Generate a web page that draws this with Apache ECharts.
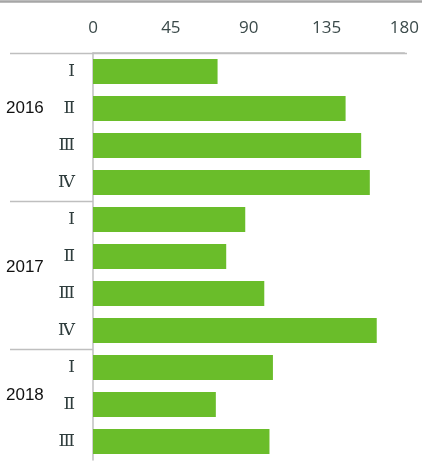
<!DOCTYPE html>
<html>
<head>
<meta charset="utf-8">
<script src="https://cdn.jsdelivr.net/npm/echarts@6/dist/echarts.min.js"></script>
<style>
  html, body { margin: 0; padding: 0; background: #fff; }
  #main { width: 422px; height: 461px; }
</style>
</head>
<body>
<div id="main"></div>
<script>
// quarter labels per row, years grouped 4/4/3
const quarters = ['Ⅰ', 'Ⅱ', 'Ⅲ', 'Ⅳ', 'Ⅰ', 'Ⅱ', 'Ⅲ', 'Ⅳ', 'Ⅰ', 'Ⅱ', 'Ⅲ']
const values = [72, 146, 155, 160, 88, 77, 99, 164, 104, 71, 102]
const years = ['2016', '2017', '2018']
const yearPos = [1.5, 5.8, 9.25]   // where the year text sits, in rows
const groupStarts = [0, 4, 8]      // row where each year starts
const xMax = 180
const xStep = 45

const chart = echarts.init(document.getElementById('main'))

chart.setOption({
  animation: false,
  grid: { left: 93, right: 15, top: 53, bottom: 1 },
  xAxis: {
    type: 'value',
    position: 'top',
    min: 0,
    max: xMax,
    interval: xStep,
    splitLine: { show: false },
    axisTick: { show: false },
    axisLine: { show: true, lineStyle: { color: '#bfbfbf', width: 1.5 } },
    axisLabel: {
      fontSize: 17,
      color: '#3b4a4a',
      margin: 16,
      fontFamily: '"Open Sans", "Noto Sans", sans-serif'
    }
  },
  yAxis: [
    {
      type: 'category',
      inverse: true,
      data: quarters,
      axisTick: { show: false },
      axisLine: { show: true, lineStyle: { color: '#bfbfbf', width: 1.5 } },
      axisLabel: {
        fontSize: 17,
        color: '#2f3d3d',
        margin: 18,
        fontFamily: '"DejaVu Serif", "Liberation Serif", serif'
      }
    },
    {
      // hidden helper axis, used only to place year text and separators
      type: 'value',
      min: 0,
      max: quarters.length,
      inverse: true,
      show: false
    }
  ],
  series: [
    {
      type: 'bar',
      yAxisIndex: 0,
      data: values,
      barCategoryGap: '32%',
      itemStyle: { color: '#6abd2a' },
      silent: true
    }
  ]
})

const px = (v) => chart.convertToPixel({ yAxisIndex: 1 }, v)
const graphic = []

// thick line along the very top
graphic.push({
  type: 'line',
  shape: { x1: 0, y1: 1.5, x2: 422, y2: 1.5 },
  style: { stroke: '#a6a6a6', lineWidth: 2.5 }
})

// separators to the left of the axis at the start of each year group
groupStarts.forEach((g) => {
  const y = Math.round(px(g)) + 0.5
  graphic.push({
    type: 'line',
    shape: { x1: 10, y1: y, x2: g === 0 ? 407 : 93, y2: y },
    style: { stroke: '#bfbfbf', lineWidth: 1.5 }
  })
})

// year labels
years.forEach((yr, i) => {
  graphic.push({
    type: 'text',
    x: 6,
    y: px(yearPos[i]),
    style: {
      text: yr,
      fontSize: 17,
      fill: '#111',
      fontFamily: '"Liberation Sans", Arial, sans-serif',
      verticalAlign: 'middle'
    }
  })
})

chart.setOption({ graphic })
</script>
</body>
</html>
